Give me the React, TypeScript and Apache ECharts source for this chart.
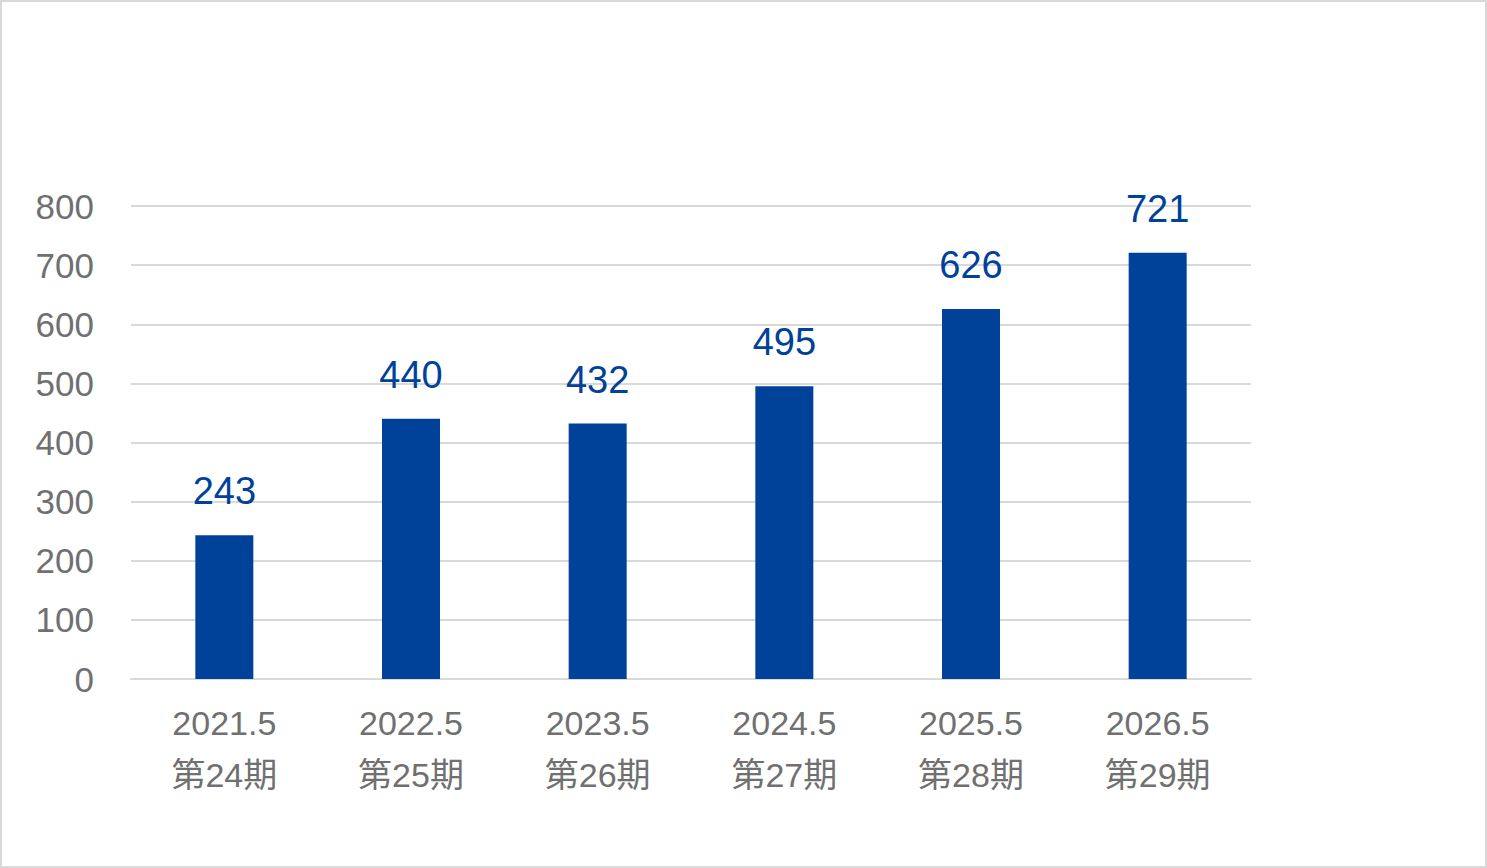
import { useEffect, useRef } from 'react'
import * as echarts from 'echarts'

const periods = ['2021.5', '2022.5', '2023.5', '2024.5', '2025.5', '2026.5']
const terms = ['第24期', '第25期', '第26期', '第27期', '第28期', '第29期']
const values = [243, 440, 432, 495, 626, 721]

const FONT = "'Liberation Sans', Arial, 'Noto Sans CJK JP', sans-serif"
const BLUE = '#00419A'
const GRAY = '#707070'

export default function App() {
  const chartRef = useRef<HTMLDivElement>(null)

  useEffect(() => {
    if (!chartRef.current) return
    document.body.style.margin = '0'
    const chart = echarts.init(chartRef.current, undefined, { renderer: 'svg' })

    chart.setOption({
      animation: false,
      backgroundColor: '#fff',
      grid: { left: 129, right: 234, top: 204, bottom: 187 },
      xAxis: {
        type: 'category',
        data: periods.map((p, i) => `${p}\n${terms[i]}`),
        axisLine: { lineStyle: { color: '#d9d9d9', width: 2 } },
        axisTick: { show: false },
        axisLabel: {
          color: GRAY,
          fontFamily: FONT,
          fontSize: 34,
          lineHeight: 52,
          margin: 18,
        },
      },
      yAxis: {
        type: 'value',
        min: 0,
        max: 800,
        interval: 100,
        axisLine: { show: false },
        axisTick: { show: false },
        splitLine: { lineStyle: { color: '#d9d9d9', width: 2 } },
        axisLabel: {
          color: GRAY,
          fontFamily: FONT,
          fontSize: 35,
          margin: 37,
        },
      },
      series: [
        {
          type: 'bar',
          data: values,
          barWidth: 58,
          itemStyle: { color: BLUE },
          label: {
            show: true,
            position: 'top',
            distance: 25,
            color: BLUE,
            fontFamily: FONT,
            fontSize: 38,
          },
        },
      ],
    })

    return () => {
      chart.dispose()
    }
  }, [])

  return (
    <div
      style={{
        position: 'absolute',
        left: 0,
        top: 0,
        width: 1487,
        height: 868,
        border: '2px solid #d9d9d9',
        boxSizing: 'border-box',
        background: '#fff',
      }}
    >
      <div ref={chartRef} style={{ width: 1483, height: 864 }} />
    </div>
  )
}
